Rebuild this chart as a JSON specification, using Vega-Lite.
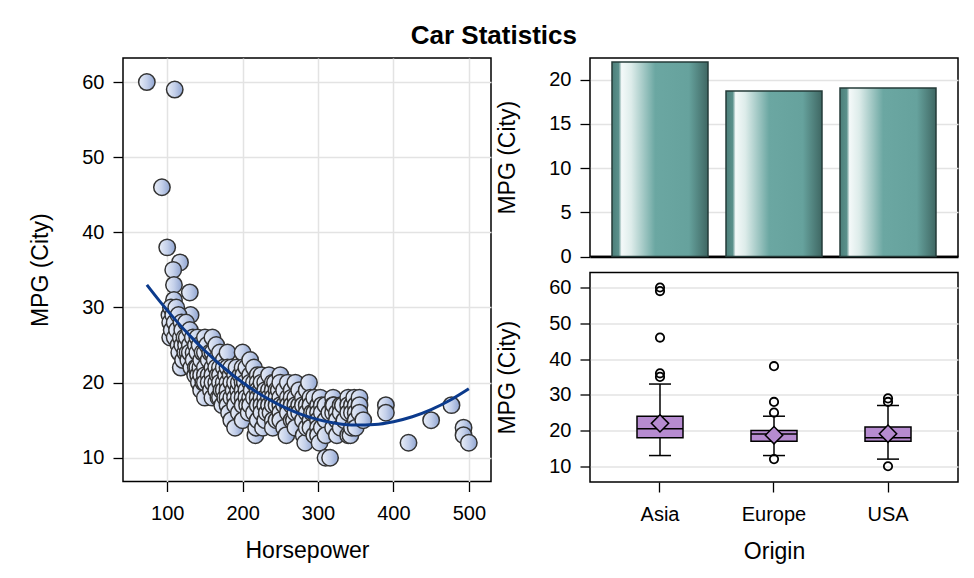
{
  "$schema": "https://vega.github.io/schema/vega-lite/v6.json",
  "background": "white",
  "padding": {"left": 29, "top": 23, "right": 5, "bottom": 5},
  "title": {"text": "Car Statistics", "fontSize": 26, "fontWeight": "bold", "font": "Liberation Sans", "anchor": "middle", "offset": 8, "color": "black"},
  "datasets": {
    "cars": [
      {"hp":73,"mpg":60},{"hp":110,"mpg":59},{"hp":93,"mpg":46},{"hp":100,"mpg":38},{"hp":117,"mpg":36},{"hp":108,"mpg":35},{"hp":109,"mpg":33},{"hp":109,"mpg":31},{"hp":130,"mpg":32},{"hp":131,"mpg":29},
      {"hp":103,"mpg":29},{"hp":104,"mpg":26},{"hp":104,"mpg":28},{"hp":105,"mpg":30},{"hp":106,"mpg":27},{"hp":108,"mpg":29},{"hp":110,"mpg":28},{"hp":110,"mpg":26},{"hp":112,"mpg":30},{"hp":113,"mpg":27},{"hp":115,"mpg":25},{"hp":115,"mpg":29},{"hp":116,"mpg":24},{"hp":118,"mpg":22},{"hp":118,"mpg":26},{"hp":119,"mpg":28},{"hp":120,"mpg":25},{"hp":120,"mpg":27},{"hp":121,"mpg":23},{"hp":123,"mpg":26},{"hp":124,"mpg":24},{"hp":125,"mpg":28},{"hp":125,"mpg":25},
      {"hp":126,"mpg":26},{"hp":127,"mpg":24},{"hp":128,"mpg":23},{"hp":130,"mpg":27},{"hp":130,"mpg":25},{"hp":130,"mpg":24},{"hp":132,"mpg":22},{"hp":134,"mpg":26},{"hp":135,"mpg":24},{"hp":135,"mpg":23},{"hp":137,"mpg":21},{"hp":138,"mpg":25},{"hp":138,"mpg":22},{"hp":140,"mpg":26},{"hp":140,"mpg":24},{"hp":140,"mpg":22},{"hp":141,"mpg":21},{"hp":142,"mpg":20},{"hp":143,"mpg":25},{"hp":144,"mpg":22},{"hp":145,"mpg":23},{"hp":145,"mpg":21},{"hp":145,"mpg":19},{"hp":147,"mpg":24},{"hp":148,"mpg":20},{"hp":150,"mpg":26},{"hp":150,"mpg":24},{"hp":150,"mpg":22},{"hp":150,"mpg":21},{"hp":150,"mpg":20},{"hp":150,"mpg":18},
      {"hp":153,"mpg":25},{"hp":155,"mpg":23},{"hp":155,"mpg":21},{"hp":155,"mpg":20},{"hp":157,"mpg":24},{"hp":158,"mpg":19},{"hp":160,"mpg":26},{"hp":160,"mpg":24},{"hp":160,"mpg":22},{"hp":160,"mpg":21},{"hp":160,"mpg":20},{"hp":160,"mpg":18},{"hp":163,"mpg":23},{"hp":165,"mpg":25},{"hp":165,"mpg":22},{"hp":165,"mpg":20},{"hp":165,"mpg":19},{"hp":167,"mpg":21},{"hp":168,"mpg":18},{"hp":170,"mpg":24},{"hp":170,"mpg":22},{"hp":170,"mpg":21},{"hp":170,"mpg":20},{"hp":170,"mpg":18},{"hp":172,"mpg":19},{"hp":173,"mpg":17},{"hp":175,"mpg":23},{"hp":175,"mpg":22},{"hp":175,"mpg":20},{"hp":175,"mpg":19},{"hp":177,"mpg":18},{"hp":178,"mpg":21},{"hp":180,"mpg":24},{"hp":180,"mpg":22},{"hp":180,"mpg":20},{"hp":180,"mpg":19},{"hp":180,"mpg":18},{"hp":180,"mpg":17},{"hp":182,"mpg":16},{"hp":184,"mpg":21},{"hp":185,"mpg":22},{"hp":185,"mpg":20},{"hp":185,"mpg":18},{"hp":185,"mpg":15},{"hp":188,"mpg":19},{"hp":190,"mpg":21},{"hp":190,"mpg":20},{"hp":190,"mpg":18},{"hp":190,"mpg":17},{"hp":190,"mpg":14},{"hp":192,"mpg":22},{"hp":194,"mpg":19},{"hp":195,"mpg":20},{"hp":195,"mpg":18},{"hp":195,"mpg":16},{"hp":197,"mpg":21},{"hp":200,"mpg":24},{"hp":200,"mpg":22},{"hp":200,"mpg":20},{"hp":200,"mpg":19},{"hp":200,"mpg":18},{"hp":200,"mpg":17},{"hp":200,"mpg":15},
      {"hp":201,"mpg":21},{"hp":203,"mpg":20},{"hp":205,"mpg":22},{"hp":205,"mpg":19},{"hp":205,"mpg":18},{"hp":206,"mpg":17},{"hp":208,"mpg":16},{"hp":210,"mpg":23},{"hp":210,"mpg":21},{"hp":210,"mpg":20},{"hp":210,"mpg":18},{"hp":210,"mpg":17},{"hp":212,"mpg":19},{"hp":215,"mpg":22},{"hp":215,"mpg":20},{"hp":215,"mpg":18},{"hp":215,"mpg":16},{"hp":217,"mpg":13},{"hp":218,"mpg":14},{"hp":220,"mpg":21},{"hp":220,"mpg":20},{"hp":220,"mpg":19},{"hp":220,"mpg":18},{"hp":220,"mpg":17},{"hp":220,"mpg":15},{"hp":224,"mpg":19},{"hp":225,"mpg":21},{"hp":225,"mpg":20},{"hp":225,"mpg":18},{"hp":225,"mpg":17},{"hp":225,"mpg":16},{"hp":227,"mpg":14},{"hp":230,"mpg":20},{"hp":230,"mpg":19},{"hp":230,"mpg":18},{"hp":230,"mpg":17},{"hp":230,"mpg":15},{"hp":232,"mpg":16},{"hp":235,"mpg":21},{"hp":235,"mpg":19},{"hp":235,"mpg":18},{"hp":235,"mpg":17},{"hp":237,"mpg":16},{"hp":240,"mpg":20},{"hp":240,"mpg":19},{"hp":240,"mpg":18},{"hp":240,"mpg":17},{"hp":240,"mpg":15},{"hp":240,"mpg":14},{"hp":243,"mpg":20},{"hp":245,"mpg":19},{"hp":245,"mpg":18},{"hp":245,"mpg":17},{"hp":245,"mpg":15},{"hp":248,"mpg":19},{"hp":250,"mpg":21},{"hp":250,"mpg":20},{"hp":250,"mpg":18},{"hp":250,"mpg":17},{"hp":250,"mpg":16},{"hp":250,"mpg":15},
      {"hp":255,"mpg":19},{"hp":255,"mpg":17},{"hp":255,"mpg":14},{"hp":258,"mpg":13},{"hp":260,"mpg":20},{"hp":260,"mpg":18},{"hp":260,"mpg":17},{"hp":260,"mpg":16},{"hp":265,"mpg":19},{"hp":265,"mpg":18},{"hp":265,"mpg":17},{"hp":265,"mpg":15},{"hp":268,"mpg":15},{"hp":270,"mpg":20},{"hp":270,"mpg":18},{"hp":270,"mpg":17},{"hp":270,"mpg":16},{"hp":270,"mpg":14},{"hp":275,"mpg":19},{"hp":275,"mpg":17},{"hp":275,"mpg":16},{"hp":280,"mpg":18},{"hp":280,"mpg":17},{"hp":280,"mpg":15},{"hp":281,"mpg":13},{"hp":283,"mpg":12},{"hp":285,"mpg":19},{"hp":285,"mpg":17},{"hp":285,"mpg":16},{"hp":285,"mpg":14},{"hp":288,"mpg":20},{"hp":290,"mpg":18},{"hp":290,"mpg":17},{"hp":290,"mpg":15},{"hp":290,"mpg":14},{"hp":292,"mpg":16},{"hp":295,"mpg":18},{"hp":295,"mpg":16},{"hp":295,"mpg":13},{"hp":300,"mpg":17},{"hp":300,"mpg":16},{"hp":300,"mpg":15},{"hp":300,"mpg":14},{"hp":300,"mpg":13},{"hp":302,"mpg":12},
      {"hp":303,"mpg":18},{"hp":305,"mpg":17},{"hp":305,"mpg":16},{"hp":305,"mpg":14},{"hp":310,"mpg":17},{"hp":310,"mpg":15},{"hp":310,"mpg":13},{"hp":310,"mpg":10},{"hp":316,"mpg":10},{"hp":315,"mpg":16},{"hp":320,"mpg":18},{"hp":320,"mpg":17},{"hp":320,"mpg":16},{"hp":320,"mpg":14},{"hp":321,"mpg":17},{"hp":325,"mpg":16},{"hp":325,"mpg":15},{"hp":325,"mpg":13},{"hp":330,"mpg":17},{"hp":330,"mpg":16},{"hp":330,"mpg":14},{"hp":333,"mpg":17},{"hp":335,"mpg":15},{"hp":340,"mpg":18},{"hp":340,"mpg":17},{"hp":340,"mpg":16},{"hp":340,"mpg":13},{"hp":343,"mpg":13},{"hp":345,"mpg":17},{"hp":345,"mpg":14},{"hp":345,"mpg":16},{"hp":348,"mpg":18},{"hp":350,"mpg":17},{"hp":350,"mpg":16},{"hp":350,"mpg":15},{"hp":350,"mpg":14},{"hp":355,"mpg":18},{"hp":355,"mpg":17},{"hp":355,"mpg":16},{"hp":360,"mpg":15},
      {"hp":390,"mpg":17},{"hp":390,"mpg":16},{"hp":420,"mpg":12},{"hp":450,"mpg":15},{"hp":477,"mpg":17},{"hp":493,"mpg":14},{"hp":493,"mpg":13},{"hp":500,"mpg":12}
    ],
    "fit": [
      {"hp":73,"mpg":33.01},{"hp":90,"mpg":30.84},{"hp":110,"mpg":28.45},{"hp":130,"mpg":26.25},{"hp":150,"mpg":24.24},{"hp":175,"mpg":21.98},{"hp":200,"mpg":20.02},{"hp":225,"mpg":18.35},{"hp":250,"mpg":16.97},{"hp":275,"mpg":15.88},{"hp":300,"mpg":15.08},{"hp":325,"mpg":14.57},{"hp":350,"mpg":14.36},{"hp":375,"mpg":14.43},{"hp":400,"mpg":14.8},{"hp":425,"mpg":15.46},{"hp":450,"mpg":16.41},{"hp":475,"mpg":17.65},{"hp":500,"mpg":19.18}
    ],
    "means": [
      {"origin":"Asia","mpg":22.01},{"origin":"Europe","mpg":18.73},{"origin":"USA","mpg":19.07}
    ],
    "box": [
      {"origin":"Asia","lo":13,"q1":18,"med":20.5,"q3":24,"hi":33,"mean":22.0},
      {"origin":"Europe","lo":13,"q1":17,"med":19,"q3":20,"hi":24,"mean":18.7},
      {"origin":"USA","lo":12,"q1":17,"med":18,"q3":21,"hi":27,"mean":19.1}
    ],
    "outliers": [
      {"origin":"Asia","mpg":60},{"origin":"Asia","mpg":59},{"origin":"Asia","mpg":46},{"origin":"Asia","mpg":36},{"origin":"Asia","mpg":35},
      {"origin":"Europe","mpg":38},{"origin":"Europe","mpg":28},{"origin":"Europe","mpg":25},{"origin":"Europe","mpg":12},
      {"origin":"USA","mpg":29},{"origin":"USA","mpg":28},{"origin":"USA","mpg":10}
    ]
  },
  "spacing": 4,
  "hconcat": [
    {
      "width": 368,
      "height": 423.5,
      "layer": [
        {
          "data": {"name": "cars"},
          "mark": {"type": "point", "shape": "circle", "filled": true, "size": 270, "opacity": 1, "stroke": "#333333", "strokeWidth": 1.5, "clip": true,
            "fill": {"gradient": "linear", "x1": 0, "y1": 0, "x2": 1, "y2": 0, "stops": [{"offset": 0, "color": "#E9EEF8"}, {"offset": 0.5, "color": "#C4D0EA"}, {"offset": 1, "color": "#8FA4D1"}]}},
          "encoding": {
            "x": {"field": "hp", "type": "quantitative", "scale": {"domain": [41.4, 529.4], "nice": false, "zero": false}, "axis": {"values": [100, 200, 300, 400, 500], "title": "Horsepower", "grid": true}},
            "y": {"field": "mpg", "type": "quantitative", "scale": {"domain": [6.84, 63.2], "nice": false, "zero": false}, "axis": {"values": [10, 20, 30, 40, 50, 60], "title": "MPG (City)", "grid": true}}
          }
        },
        {
          "data": {"name": "fit"},
          "mark": {"type": "line", "color": "#0B3A8C", "strokeWidth": 3, "interpolate": "monotone", "clip": true},
          "encoding": {
            "x": {"field": "hp", "type": "quantitative"},
            "y": {"field": "mpg", "type": "quantitative"}
          }
        }
      ]
    },
    {
      "spacing": 3.5,
      "vconcat": [
        {
          "width": 368,
          "height": 198.5,
          "data": {"name": "means"},
          "mark": {"type": "bar", "stroke": "#243B39", "strokeWidth": 1.5,
            "fill": {"gradient": "linear", "x1": 0, "y1": 0, "x2": 1, "y2": 0, "stops": [{"offset": 0, "color": "#4C7F7A"}, {"offset": 0.07, "color": "#5A908B"}, {"offset": 0.1, "color": "#F4F9F9"}, {"offset": 0.2, "color": "#DDECEA"}, {"offset": 0.45, "color": "#6BA7A2"}, {"offset": 0.8, "color": "#66A29D"}, {"offset": 1, "color": "#3F6763"}]}},
          "encoding": {
            "x": {"field": "origin", "type": "nominal", "scale": {"paddingInner": 0.158, "paddingOuter": 0.193}, "axis": {"labels": false, "ticks": false, "title": null, "domain": true, "domainColor": "black", "domainWidth": 2.5, "grid": false}},
            "y": {"field": "mpg", "type": "quantitative", "scale": {"domain": [0, 22.45], "nice": false}, "axis": {"values": [0, 5, 10, 15, 20], "title": "MPG (City)", "grid": true}}
          }
        },
        {
          "width": 368,
          "height": 209.5,
          "layer": [
            {
              "data": {"name": "box"},
              "mark": {"type": "rule", "color": "black", "strokeWidth": 1.5},
              "encoding": {
                "x": {"field": "origin", "type": "nominal", "scale": {"paddingInner": 0.158, "paddingOuter": 0.193}, "axis": {"title": "Origin", "labelAngle": 0, "grid": false}},
                "y": {"field": "lo", "type": "quantitative", "scale": {"domain": [5.6, 64.2], "nice": false, "zero": false}, "axis": {"values": [10, 20, 30, 40, 50, 60], "title": "MPG (City)", "grid": true}},
                "y2": {"field": "hi"}
              }
            },
            {
              "data": {"name": "box"},
              "mark": {"type": "bar", "width": 46, "fill": "#B68BD0", "stroke": "black", "strokeWidth": 1.5},
              "encoding": {
                "x": {"field": "origin", "type": "nominal"},
                "y": {"field": "q1", "type": "quantitative"},
                "y2": {"field": "q3"}
              }
            },
            {
              "data": {"name": "box"},
              "mark": {"type": "tick", "size": 46, "thickness": 1.5, "color": "black", "opacity": 1},
              "encoding": {
                "x": {"field": "origin", "type": "nominal"},
                "y": {"field": "med", "type": "quantitative"}
              }
            },
            {
              "data": {"name": "box"},
              "mark": {"type": "tick", "size": 22, "thickness": 1.5, "color": "black", "opacity": 1},
              "encoding": {
                "x": {"field": "origin", "type": "nominal"},
                "y": {"field": "lo", "type": "quantitative"}
              }
            },
            {
              "data": {"name": "box"},
              "mark": {"type": "tick", "size": 22, "thickness": 1.5, "color": "black", "opacity": 1},
              "encoding": {
                "x": {"field": "origin", "type": "nominal"},
                "y": {"field": "hi", "type": "quantitative"}
              }
            },
            {
              "data": {"name": "box"},
              "mark": {"type": "point", "shape": "diamond", "size": 300, "filled": true, "fill": "#B68BD0", "stroke": "black", "strokeWidth": 1.5, "opacity": 1},
              "encoding": {
                "x": {"field": "origin", "type": "nominal"},
                "y": {"field": "mean", "type": "quantitative"}
              }
            },
            {
              "data": {"name": "outliers"},
              "mark": {"type": "point", "shape": "circle", "size": 70, "filled": false, "stroke": "black", "strokeWidth": 1.8, "opacity": 1},
              "encoding": {
                "x": {"field": "origin", "type": "nominal"},
                "y": {"field": "mpg", "type": "quantitative"}
              }
            }
          ]
        }
      ]
    }
  ],
  "config": {
    "font": "Liberation Sans",
    "view": {"stroke": "black", "strokeWidth": 1.5},
    "axis": {"labelFont": "Liberation Sans", "labelFontSize": 20, "labelColor": "black", "titleFont": "Liberation Sans", "titleFontSize": 23, "titleFontWeight": "normal", "titleColor": "black", "tickColor": "black", "tickSize": 10, "tickWidth": 1.3, "domain": false, "gridColor": "#E3E3E3", "gridWidth": 1.5},
    "axisY": {"labelPadding": 9, "titlePadding": 29},
    "axisX": {"labelPadding": 12, "titlePadding": 16}
  }
}
